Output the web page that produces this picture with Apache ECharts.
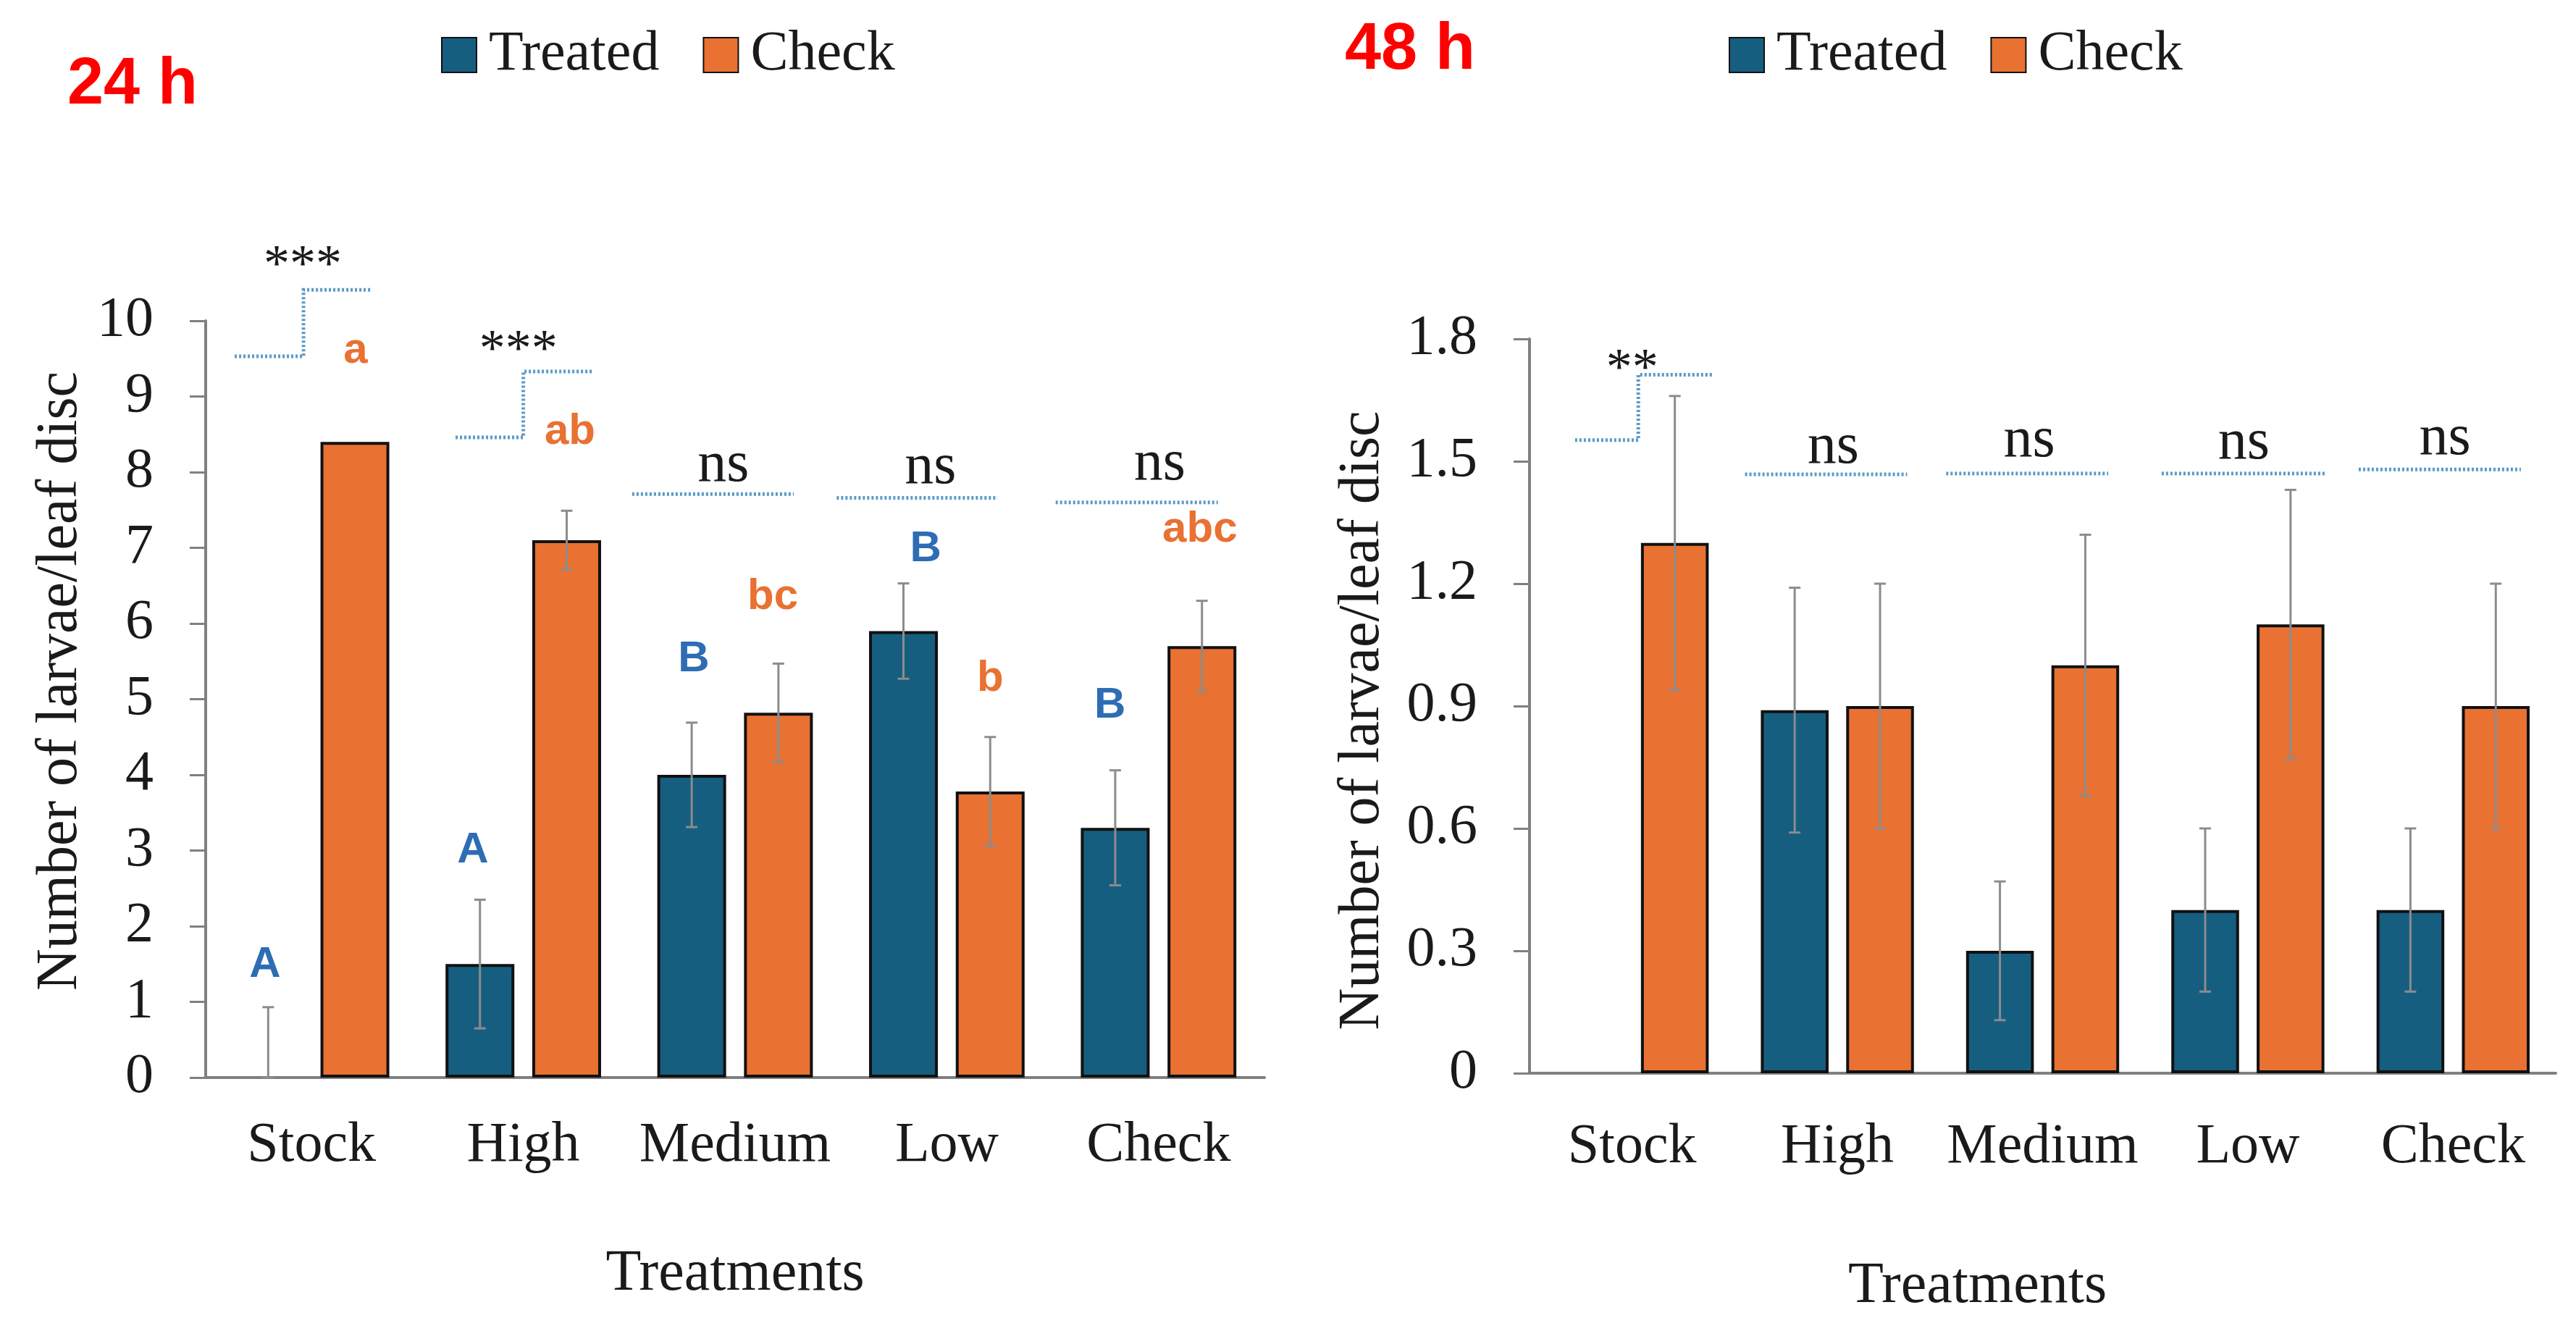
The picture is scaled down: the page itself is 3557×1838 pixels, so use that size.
<!DOCTYPE html>
<html>
<head>
<meta charset="utf-8">
<script src="https://cdn.jsdelivr.net/npm/echarts@6/dist/echarts.min.js"></script>
<style>
  html, body { margin: 0; padding: 0; background: #fff; }
  #chart { width: 3557px; height: 1838px; }
</style>
</head>
<body>
<div id="chart"></div>
<script>
// data
var categories = ['Stock', 'High', 'Medium', 'Low', 'Check'];

var treated24 = [0, 1.5, 4.0, 5.9, 3.3];
var treated24Err = [0.93, 0.85, 0.69, 0.63, 0.76];
var check24 = [8.4, 7.1, 4.82, 3.78, 5.7];
var check24Err = [0, 0.39, 0.65, 0.72, 0.6];

var treated48 = [0, 0.89, 0.3, 0.4, 0.4];
var treated48Err = [0, 0.3, 0.17, 0.2, 0.2];
var check48 = [1.3, 0.9, 1.0, 1.1, 0.9];
var check48Err = [0.36, 0.3, 0.32, 0.33, 0.3];

var yTicks24 = { min: 0, max: 10, interval: 1 };
var yTicks48 = { min: 0, max: 1.8, interval: 0.3 };

// letters: [category index, offset in band, y value, text]
var upperLetters24 = [[0, -0.22, 1.49, 'A'], [1, -0.238, 3.0, 'A'], [2, -0.195, 5.53, 'B'], [3, -0.10, 6.98, 'B'], [4, -0.23, 4.91, 'B']];
var lowerLetters24 = [[0, 0.208, 9.6, 'a'], [1, 0.22, 8.53, 'ab'], [2, 0.178, 6.35, 'bc'], [3, 0.205, 5.27, 'b'], [4, 0.195, 7.24, 'abc']];

// significance marks: [category index, offset, y value, text]
var sig24 = [[0, -0.042, 10.72, '***'], [1, -0.023, 9.6, '***'], [2, -0.055, 8.09, 'ns'], [3, -0.077, 8.06, 'ns'], [4, 0.005, 8.11, 'ns']];
var sig48 = [[0, 0, 1.724, '**'], [1, -0.02, 1.534, 'ns'], [2, -0.065, 1.55, 'ns'], [3, -0.02, 1.545, 'ns'], [4, -0.04, 1.555, 'ns']];

// step brackets: [category index, u0, uMid, u1, yLow, yHigh]
var steps24 = [[0, -0.363, -0.038, 0.287, 9.53, 10.41], [1, -0.32, 0.0, 0.33, 8.46, 9.33]];
var steps48 = [[0, -0.278, 0.03, 0.39, 1.552, 1.712]];
// flat dotted lines: [category index, u0, u1, y]
var flats24 = [[2, -0.486, 0.277, 7.71], [3, -0.52, 0.24, 7.66], [4, -0.486, 0.28, 7.60]];
var flats48 = [[1, -0.45, 0.34, 1.468], [2, -0.47, 0.32, 1.47], [3, -0.42, 0.38, 1.47], [4, -0.46, 0.33, 1.48]];

var BLUE = '#165e80', ORANGE = '#e97132';
var LETTER_BLUE = '#2e6db3', LETTER_ORANGE = '#e97132';
var DOT = '#5a9ac6', ERR = '#8c8c8c', AXIS = '#808080';
var SERIF = "'Liberation Serif', 'Times New Roman', serif";
var SANS = "'Liberation Sans', Arial, sans-serif";

var chart = echarts.init(document.getElementById('chart'));

function errorSeries(xi, yi, vals, errs, offset, sign) {
  return {
    type: 'custom', xAxisIndex: xi, yAxisIndex: yi, z: 5, silent: true, clip: false,
    data: vals.map(function (v, i) { return [i, v, errs[i]]; }),
    renderItem: function (params, api) {
      var i = api.value(0), v = api.value(1), e = api.value(2);
      if (!(e > 0)) return;
      var band = api.size([1, 0])[0];
      var dx = sign * band * offset;
      var top = api.coord([i, v + e]);
      var bot = api.coord([i, Math.max(0, v - e)]);
      var x = top[0] + dx, cap = 8;
      var st = { stroke: ERR, lineWidth: 3 };
      return { type: 'group', children: [
        { type: 'line', shape: { x1: x, y1: top[1], x2: x, y2: bot[1] }, style: st },
        { type: 'line', shape: { x1: x - cap, y1: top[1], x2: x + cap, y2: top[1] }, style: st },
        { type: 'line', shape: { x1: x - cap, y1: bot[1], x2: x + cap, y2: bot[1] }, style: st }
      ] };
    }
  };
}

function textSeries(xi, yi, items, color, font, size, weight) {
  return {
    type: 'custom', xAxisIndex: xi, yAxisIndex: yi, z: 6, silent: true, clip: false,
    data: items.map(function (d) { return [d[0], d[2], d[1]]; }),
    renderItem: function (params, api) {
      var band = api.size([1, 0])[0];
      var p = api.coord([api.value(0), api.value(1)]);
      return { type: 'text', x: p[0] + api.value(2) * band, y: p[1], style: {
        text: items[params.dataIndex][3], fill: color, font: weight + ' ' + size + 'px ' + font,
        align: 'center', verticalAlign: 'middle' } };
    }
  };
}

function bracketSeries(xi, yi, steps, flats) {
  var items = steps.map(function (s) { return ['s'].concat(s); })
    .concat(flats.map(function (f) { return ['f'].concat(f); }));
  return {
    type: 'custom', xAxisIndex: xi, yAxisIndex: yi, z: 6, silent: true, clip: false,
    data: items.map(function (d) { return [d[1], d[d.length - 1]]; }),
    renderItem: function (params, api) {
      var d = items[params.dataIndex];
      var band = api.size([1, 0])[0];
      var st = { stroke: DOT, lineWidth: 5, lineDash: [3, 3], fill: null };
      if (d[0] === 'f') {
        var a = api.coord([d[1], d[4]]);
        return { type: 'line', shape: { x1: a[0] + d[2] * band, y1: a[1], x2: a[0] + d[3] * band, y2: a[1] }, style: st };
      }
      var lo = api.coord([d[1], d[5]]), hi = api.coord([d[1], d[6]]);
      var c = lo[0];
      return { type: 'polyline', shape: { points: [
        [c + d[2] * band, lo[1]], [c + d[3] * band, lo[1]], [c + d[3] * band, hi[1]], [c + d[4] * band, hi[1]]
      ] }, style: st };
    }
  };
}

function xMain(gi, margin, gap, pad) {
  return {
    type: 'category', gridIndex: gi, data: categories,
    axisLine: { lineStyle: { color: AXIS, width: 4 } },
    axisTick: { alignWithLabel: true, length: 17, lineStyle: { color: AXIS, width: 3 } },
    axisLabel: { interval: 0, margin: margin, fontFamily: SERIF, fontSize: 78, color: '#1a1a1a' },
    name: 'Treatments', nameLocation: 'middle', nameGap: gap,
    nameTextStyle: { fontFamily: SERIF, fontSize: 80, color: '#1a1a1a', padding: pad }
  };
}
function xTicks(gi) {
  return {
    type: 'category', gridIndex: gi, data: categories,
    axisLine: { show: false }, axisLabel: { show: false },
    axisTick: { inside: true, interval: 0, length: 25, lineStyle: { color: AXIS, width: 3 } }
  };
}
function yAxis(gi, t, gap, pad) {
  return {
    type: 'value', gridIndex: gi, min: t.min, max: t.max, interval: t.interval,
    splitLine: { show: false },
    axisLine: { show: true, lineStyle: { color: AXIS, width: 4 } },
    axisTick: { show: true, length: 22, lineStyle: { color: AXIS, width: 3 } },
    axisLabel: { margin: 72, fontFamily: SERIF, fontSize: 78, color: '#1a1a1a' },
    name: 'Number of larvae/leaf disc', nameLocation: 'middle', nameGap: gap,
    nameTextStyle: { fontFamily: SERIF, fontSize: 80, color: '#1a1a1a', padding: pad }
  };
}
function bars(name, xi, yi, vals, color, w) {
  return {
    name: name, type: 'bar', xAxisIndex: xi, yAxisIndex: yi,
    // a zero mean has no visible bar in the figure
    data: vals.map(function (v) { return v > 0 ? v : { value: v, itemStyle: { borderWidth: 0 } }; }),
    barWidth: w, barGap: '26%',
    itemStyle: { color: color, borderColor: '#111', borderWidth: 4 }
  };
}
function legend(left) {
  return {
    left: left, top: 32, data: ['Treated', 'Check'], icon: 'rect',
    itemWidth: 48, itemHeight: 48, itemGap: 60,
    textStyle: { fontFamily: SERIF, fontSize: 78, color: '#1a1a1a', padding: [0, 0, 0, 12] }
  };
}

var option = {
  backgroundColor: '#fff',
  animation: false,
  title: [
    { text: '24 h', left: 88, top: 68, textStyle: { fontFamily: SANS, fontWeight: 'bold', fontSize: 90, color: '#ff0000' } },
    { text: '48 h', left: 1852, top: 20, textStyle: { fontFamily: SANS, fontWeight: 'bold', fontSize: 90, color: '#ff0000' } }
  ],
  legend: [legend(604), legend(2382)],
  grid: [
    { left: 284, top: 443, width: 1462, height: 1045 },
    { left: 2112, top: 468, width: 1417, height: 1014 }
  ],
  xAxis: [xMain(0, 56, 232, [0, 0, 0, 0]), xTicks(0), xMain(1, 64, 255, [0, 180, 0, 0]), xTicks(1)],
  yAxis: [yAxis(0, yTicks24, 160, [0, 0, 0, 50]), yAxis(1, yTicks48, 190, [0, 40, 0, 0])],
  series: [
    bars('Treated', 0, 0, treated24, BLUE, '32.5%'),
    bars('Check', 0, 0, check24, ORANGE, '32.5%'),
    bars('Treated', 2, 1, treated48, BLUE, '33%'),
    bars('Check', 2, 1, check48, ORANGE, '33%'),
    errorSeries(0, 0, treated24, treated24Err, 0.2048, -1),
    errorSeries(0, 0, check24, check24Err, 0.2048, 1),
    errorSeries(2, 1, treated48, treated48Err, 0.208, -1),
    errorSeries(2, 1, check48, check48Err, 0.208, 1),
    bracketSeries(0, 0, steps24, flats24),
    bracketSeries(2, 1, steps48, flats48),
    textSeries(0, 0, upperLetters24, LETTER_BLUE, SANS, 60, 'bold'),
    textSeries(0, 0, lowerLetters24, LETTER_ORANGE, SANS, 60, 'bold'),
    textSeries(0, 0, sig24.filter(function (s) { return s[3] !== 'ns'; }), '#1a1a1a', SERIF, 72, 'normal'),
    textSeries(0, 0, sig24.filter(function (s) { return s[3] === 'ns'; }), '#1a1a1a', SERIF, 80, 'normal'),
    textSeries(2, 1, sig48.filter(function (s) { return s[3] !== 'ns'; }), '#1a1a1a', SERIF, 72, 'normal'),
    textSeries(2, 1, sig48.filter(function (s) { return s[3] === 'ns'; }), '#1a1a1a', SERIF, 80, 'normal')
  ]
};
chart.setOption(option);
window.addEventListener('resize', chart.resize);
</script>
</body>
</html>
